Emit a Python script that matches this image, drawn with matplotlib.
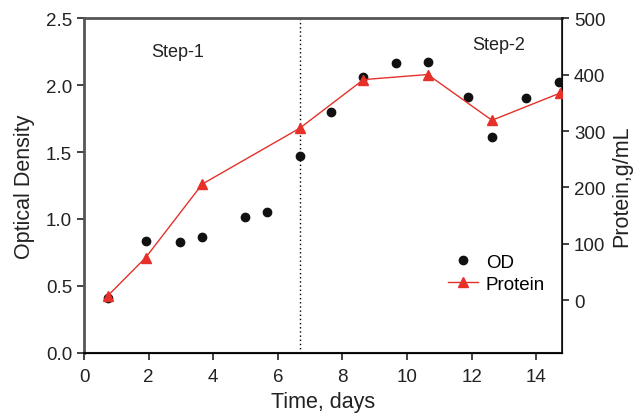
import matplotlib
matplotlib.use("Agg")
import matplotlib.pyplot as plt

plt.rcParams['font.family'] = ['Liberation Sans', 'DejaVu Sans']

od_days = [0.73, 1.91, 2.97, 3.64, 4.98, 5.66, 6.68, 7.65, 8.65, 9.65, 10.64, 11.89, 12.63, 13.69, 14.72]
od_values = [0.408, 0.838, 0.83, 0.863, 1.017, 1.05, 1.472, 1.796, 2.057, 2.164, 2.169, 1.908, 1.61, 1.905, 2.025]

protein_days = [0.73, 1.91, 3.66, 6.68, 8.65, 10.64, 12.63, 14.73]
protein_values = [8, 76, 206, 305, 391, 400, 319, 367]

step_change_day = 6.7

fig = plt.figure(figsize=(6.38, 4.14), dpi=100)
ax = fig.add_axes([0.1317, 0.145, 0.7493, 0.809])
ax2 = ax.twinx()

red = '#e5312a'
l1, = ax.plot(od_days, od_values, 'o', color='#111111', markersize=6, linestyle='none', label='OD', zorder=3)
l2, = ax2.plot(protein_days, protein_values, '-^', color=red, markersize=7, linewidth=1, label='Protein', zorder=3)

ax.axvline(step_change_day, color='black', linestyle=(0, (1, 2)), linewidth=1)

ax.set_xlim(0, 14.8)
ax.set_ylim(0, 2.5)
ax2.set_ylim(-93, 500)
ax.set_xticks([0, 2, 4, 6, 8, 10, 12, 14])
ax.set_yticks([0.0, 0.5, 1.0, 1.5, 2.0, 2.5])
ax.set_yticklabels(['0.0', '0.5', '1.0', '1.5', '2.0', '2.5'])
ax2.set_yticks([0, 100, 200, 300, 400, 500])

for a in (ax, ax2):
    a.tick_params(labelsize=13.5, colors='#222222', length=5, width=1.2, direction='out')
ax.tick_params(axis='x', pad=6)

ax.spines['left'].set_color('#555555')
ax.spines['left'].set_linewidth(2)
ax.spines['top'].set_color('#555555')
ax.spines['top'].set_linewidth(2)
ax.spines['bottom'].set_color('#111111')
ax.spines['bottom'].set_linewidth(1.5)
ax2.spines['right'].set_color('#111111')
ax2.spines['right'].set_linewidth(1.2)
ax2.spines['left'].set_visible(False)
ax2.spines['top'].set_visible(False)

ax.set_xlabel('Time, days', fontsize=15.5, color='#222222', labelpad=4)
ax.set_ylabel('Optical Density', fontsize=15.5, color='#222222', labelpad=8)
ax2.set_ylabel('Protein,g/mL', fontsize=15.5, color='#222222', labelpad=4)

ax.text(2.9, 2.25, 'Step-1', fontsize=13, ha='center', va='center', color='#222222')
ax.text(12.85, 2.3, 'Step-2', fontsize=13, ha='center', va='center', color='#222222')

ax.legend([l1, l2], ['OD', 'Protein'], loc='lower right', bbox_to_anchor=(1.0, 0.13),
          frameon=False, fontsize=13.5, handlelength=1.6, handletextpad=0.4, labelspacing=0.25)

fig.savefig('out.png', dpi=100)
